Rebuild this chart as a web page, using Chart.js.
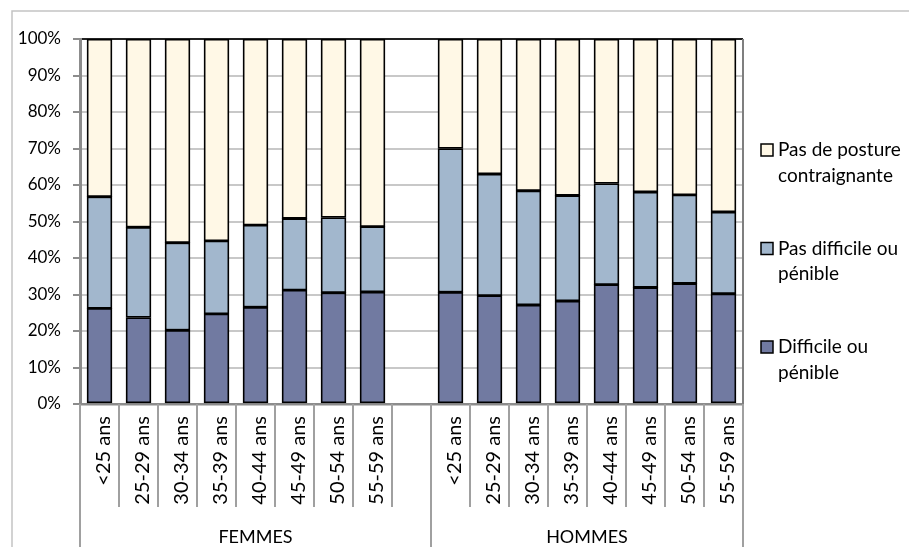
<!DOCTYPE html>
<html>
<head>
<meta charset="utf-8">
<script src="https://cdn.jsdelivr.net/npm/chart.js@4/dist/chart.umd.min.js"></script>
<style>
  body { margin: 0; background: #fff; }
  canvas { display: block; }
</style>
</head>
<body>
<canvas id="chart" width="909" height="547"></canvas>
<script>
const ages = ['<25 ans', '25-29 ans', '30-34 ans', '35-39 ans', '40-44 ans', '45-49 ans', '50-54 ans', '55-59 ans'];
const categories = [...ages, '', ...ages];
const groups = ['FEMMES', 'HOMMES'];
const groupStarts = [0, 9, 17];

const difficile    = [26.2, 23.7, 20.2, 24.7, 26.5, 31.2, 30.5, 30.7, null, 30.6, 29.7, 27.1, 28.2, 32.7, 31.9, 33.0, 30.2];
const pasDifficile = [30.6, 24.7, 24.0, 20.0, 22.5, 19.6, 20.6, 17.9, null, 39.4, 33.3, 31.3, 28.9, 27.7, 26.2, 24.3, 22.4];
const pasPosture   = [43.2, 51.6, 55.8, 55.3, 51.0, 49.2, 48.9, 51.4, null, 30.0, 37.0, 41.6, 42.9, 39.6, 41.9, 42.7, 47.4];

const yTicks = [0, 10, 20, 30, 40, 50, 60, 70, 80, 90, 100];

const legendLines = {
  'Pas de posture contraignante': ['Pas de posture', 'contraignante'],
  'Pas difficile ou pénible': ['Pas difficile ou', 'pénible'],
  'Difficile ou pénible': ['Difficile ou', 'pénible']
};

const FONT = 'Lato';
Chart.defaults.font.family = FONT;
Chart.defaults.color = '#000';

// frame, group labels, separators and the legend
const decorations = {
  id: 'decorations',
  beforeDraw(chart) {
    const ctx = chart.ctx;
    ctx.save();
    ctx.strokeStyle = '#c3c3c3';
    ctx.lineWidth = 1.5;
    ctx.beginPath();
    ctx.moveTo(12, chart.height);
    ctx.lineTo(12, 11);
    ctx.lineTo(chart.width, 11);
    ctx.stroke();
    ctx.restore();
  },
  afterDraw(chart) {
    const ctx = chart.ctx;
    const x = chart.scales.x;
    const area = chart.chartArea;
    const slot = x.getPixelForValue(1) - x.getPixelForValue(0);
    const edge = i => x.getPixelForValue(i) - slot / 2;

    ctx.save();
    // right border of plot
    ctx.strokeStyle = '#7f7f7f';
    ctx.lineWidth = 2;
    ctx.beginPath();
    ctx.moveTo(area.right, area.top);
    ctx.lineTo(area.right, area.bottom);
    ctx.stroke();

    // category separators
    ctx.strokeStyle = '#a0a0a0';
    ctx.lineWidth = 2;
    for (let i = 0; i <= categories.length; i++) {
      const px = Math.round(edge(i));
      const isGroup = groupStarts.includes(i);
      ctx.beginPath();
      ctx.moveTo(px, area.bottom);
      ctx.lineTo(px, isGroup ? chart.height : area.bottom + 103);
      ctx.stroke();
    }

    // group labels
    ctx.fillStyle = '#000';
    ctx.font = '18px ' + FONT;
    ctx.textAlign = 'center';
    ctx.textBaseline = 'middle';
    groups.forEach((g, k) => {
      const cx = (edge(groupStarts[k]) + edge(groupStarts[k + 1])) / 2;
      ctx.fillText(g, cx, area.bottom + 133);
    });

    // legend (reverse order, like the stack)
    const ds = chart.data.datasets.slice().reverse();
    ctx.font = '19px ' + FONT;
    ctx.textAlign = 'left';
    ds.forEach((d, k) => {
      const cy = 150 + k * 98.5;
      ctx.fillStyle = d.backgroundColor;
      ctx.fillRect(area.right + 18, cy - 6, 12, 12);
      ctx.strokeStyle = '#000';
      ctx.lineWidth = 1.5;
      ctx.strokeRect(area.right + 18, cy - 6, 12, 12);
      ctx.fillStyle = '#000';
      legendLines[d.label].forEach((line, j) => {
        ctx.fillText(line, area.right + 35, cy + j * 25.5);
      });
    });
    ctx.restore();
  }
};

const barStyle = { borderColor: '#000', borderWidth: 1.8, borderSkipped: false, barThickness: 25 };

new Chart(document.getElementById('chart'), {
  type: 'bar',
  data: {
    labels: categories,
    datasets: [
      { label: 'Difficile ou pénible', data: difficile, backgroundColor: '#717aa1', ...barStyle },
      { label: 'Pas difficile ou pénible', data: pasDifficile, backgroundColor: '#a2b7cd', ...barStyle },
      { label: 'Pas de posture contraignante', data: pasPosture, backgroundColor: '#fff8e6', ...barStyle }
    ]
  },
  options: {
    responsive: false,
    animation: false,
    devicePixelRatio: 1,
    layout: { padding: { top: 39, right: 166, left: 0, bottom: 0 } },
    plugins: { legend: { display: false }, tooltip: { enabled: false } },
    scales: {
      x: {
        stacked: true,
        grid: { display: false, drawTicks: false },
        border: { color: '#8c8c8c', width: 2.5 },
        ticks: { autoSkip: false, minRotation: 90, maxRotation: 90, padding: 12, labelOffset: 4, font: { size: 20 } },
        afterFit: s => { s.height = 143; }
      },
      y: {
        stacked: true,
        min: 0,
        max: 100,
        afterBuildTicks: s => { s.ticks = yTicks.map(v => ({ value: v })); },
        grid: {
          color: c => c.tick && c.tick.value === 100 ? '#222' : '#c8c8c8',
          lineWidth: 2,
          tickLength: 7,
          tickColor: '#8c8c8c'
        },
        border: { color: '#8c8c8c', width: 3 },
        ticks: { padding: 12, font: { size: 17 }, callback: v => v + '%' },
        afterFit: s => { s.width = 80; }
      }
    }
  },
  plugins: [decorations]
});
</script>
</body>
</html>
